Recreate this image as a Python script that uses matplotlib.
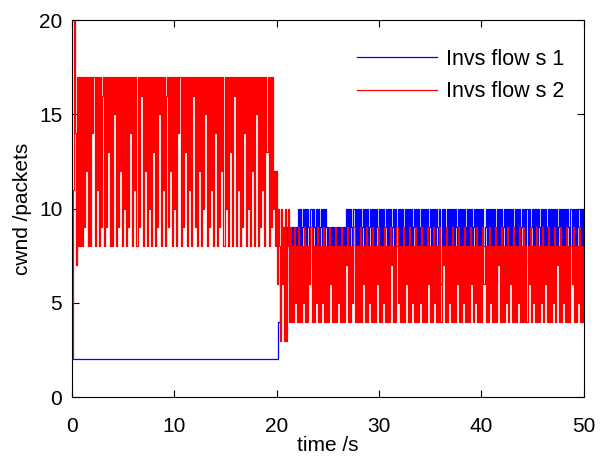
import numpy as np
from matplotlib import pyplot as plt

plt.rcParams['font.family'] = ['Liberation Sans', 'DejaVu Sans']

dt = 0.1  # sample spacing in seconds

# flow 2 (red), 0 - 20 s
red_a = [
    2, 11, 20, 14, 7, 17, 8, 17, 8, 17, 8, 17, 9, 17, 12, 17, 8, 17, 8, 17,
    14, 17, 8, 17, 11, 17, 8, 17, 9, 16, 17, 8, 17, 9, 17, 13, 17, 8, 17, 8,
    17, 15, 17, 8, 17, 9, 17, 12, 17, 8, 17, 10, 17, 8, 17, 9, 17, 14, 17, 8,
    17, 11, 17, 8, 17, 9, 17, 16, 17, 8, 17, 12, 17, 8, 17, 10, 17, 8, 17, 13,
    17, 8, 17, 9, 17, 15, 17, 8, 17, 11, 17, 8, 16, 17, 9, 17, 12, 17, 8, 17,
    10, 17, 8, 17, 14, 17, 8, 17, 9, 17, 13, 17, 8, 17, 11, 17, 8, 17, 16, 17,
    9, 17, 8, 17, 12, 17, 8, 17, 10, 17, 15, 17, 8, 17, 9, 17, 11, 17, 8, 17,
    14, 17, 8, 17, 9, 17, 12, 17, 8, 17, 10, 17, 8, 17, 13, 17, 8, 17, 16, 17,
    8, 17, 11, 17, 8, 17, 9, 17, 14, 17, 8, 17, 10, 17, 8, 17, 12, 17, 8, 17,
    15, 17, 8, 17, 9, 17, 11, 17, 8, 17, 13, 17, 8, 17, 9, 17, 10, 12, 8, 12,
]

# flow 2 (red), 20 - 50 s
red_b = [
    6, 10, 8, 3, 10, 6, 9, 3, 10, 3, 8, 10, 4, 9, 4, 8, 4, 9, 5, 8,
    4, 9, 4, 8, 4, 8, 5, 9, 4, 8, 4, 8, 6, 9, 4, 8, 4, 8, 5, 9,
    4, 8, 4, 8, 5, 9, 4, 8, 4, 8, 4, 9, 6, 8, 4, 8, 4, 9, 4, 8,
    5, 8, 4, 9, 4, 8, 4, 8, 7, 9, 4, 8, 4, 8, 5, 9, 4, 8, 4, 8,
    4, 9, 4, 8, 6, 8, 4, 9, 4, 8, 5, 8, 4, 9, 4, 8, 4, 8, 6, 9,
    4, 8, 4, 8, 5, 9, 4, 8, 4, 8, 4, 9, 7, 8, 4, 8, 4, 9, 5, 8,
    4, 8, 4, 9, 4, 8, 6, 8, 4, 9, 4, 8, 5, 8, 4, 9, 4, 8, 4, 8,
    5, 9, 4, 8, 4, 8, 4, 9, 6, 8, 4, 8, 4, 9, 5, 8, 4, 8, 4, 9,
    4, 8, 7, 8, 4, 9, 4, 8, 5, 8, 4, 9, 4, 8, 4, 8, 6, 9, 4, 8,
    4, 8, 5, 9, 4, 8, 4, 8, 4, 9, 6, 8, 4, 8, 5, 9, 4, 8, 4, 8,
    4, 9, 6, 8, 4, 8, 4, 9, 5, 8, 4, 8, 4, 9, 4, 8, 7, 8, 4, 9,
    4, 8, 4, 8, 5, 9, 4, 8, 6, 8, 4, 9, 4, 8, 4, 8, 5, 9, 4, 8,
    4, 9, 4, 8, 4, 8, 6, 9, 4, 8, 5, 8, 4, 9, 4, 8, 4, 8, 5, 9,
    4, 8, 6, 8, 4, 9, 4, 8, 4, 8, 5, 9, 4, 8, 7, 8, 4, 9, 4, 8,
    5, 8, 4, 9, 4, 8, 4, 8, 6, 9, 4, 8, 4, 8, 5, 9, 4, 8, 4, 8,
]

# flow 1 (blue): flat before 20 s, then sampled every dt
blue_a = [2]
blue_b = [
    2, 4, 4, 6, 6, 9, 8, 9, 7, 9, 8, 9, 6, 9, 8, 9, 7, 9, 8, 9,
    6, 10, 8, 10, 7, 9, 10, 8, 10, 6, 10, 9, 7, 10, 8, 10, 9, 6, 10, 8,
    10, 7, 9, 10, 8, 10, 6, 10, 9, 8, 9, 7, 9, 8, 9, 6, 9, 8, 9, 7,
    9, 8, 9, 6, 9, 8, 9, 7, 10, 8, 10, 6, 10, 9, 7, 10, 8, 10, 6, 10,
    8, 10, 7, 9, 10, 8, 10, 6, 10, 8, 9, 10, 7, 10, 8, 10, 6, 10, 9, 8,
    10, 7, 10, 8, 10, 6, 9, 10, 8, 10, 7, 10, 8, 9, 10, 6, 10, 8, 10, 7,
    10, 8, 10, 9, 6, 10, 8, 10, 7, 10, 8, 10, 6, 9, 10, 8, 10, 7, 10, 8,
    9, 10, 6, 10, 8, 10, 7, 10, 8, 9, 10, 6, 10, 8, 10, 7, 10, 9, 8, 10,
    6, 10, 8, 10, 7, 9, 10, 8, 10, 6, 10, 8, 10, 7, 10, 9, 8, 10, 6, 10,
    8, 10, 7, 10, 9, 8, 10, 6, 10, 8, 10, 7, 9, 10, 8, 10, 6, 10, 8, 10,
    7, 10, 8, 9, 10, 6, 10, 8, 10, 7, 10, 8, 10, 9, 6, 10, 8, 10, 7, 10,
    8, 9, 10, 6, 10, 8, 10, 7, 10, 8, 10, 9, 6, 10, 8, 10, 7, 10, 8, 9,
    10, 6, 10, 8, 10, 7, 10, 8, 9, 10, 6, 10, 8, 10, 7, 10, 9, 8, 10, 6,
    10, 8, 10, 7, 9, 10, 8, 10, 6, 10, 8, 10, 7, 10, 8, 9, 10, 6, 10, 8,
    10, 7, 10, 8, 10, 9, 6, 10, 8, 10, 7, 10, 8, 10, 9, 6, 10, 8, 10, 7,
]
t_switch = 20.0

labels = ['Invs flow s 1', 'Invs flow s 2']
xticks = [0, 10, 20, 30, 40, 50]
yticks = [0, 5, 10, 15, 20]

red = np.array(red_a + red_b)
t_red = dt * np.arange(len(red))
blue = np.array(blue_a + blue_b)
t_blue = np.concatenate([[0.0], t_switch + dt * np.arange(len(blue_b))])

fig = plt.figure(figsize=(6, 4.57), dpi=100)
ax = fig.add_axes([0.12, 0.131, 0.853, 0.825])

ax.plot(t_blue, blue, color='#0000ff', lw=0.9, drawstyle='steps-post',
        label=labels[0])
ax.plot(t_red, red, color='#ff0000', lw=0.9, drawstyle='steps-post',
        label=labels[1])

ax.set_xlim(0, 50)
ax.set_ylim(0, 20)
ax.set_xticks(xticks)
ax.set_yticks(yticks)
ax.tick_params(direction='in', top=True, right=True, length=5, width=0.8,
               labelsize=15)
ax.tick_params(axis='x', pad=14)
ax.tick_params(axis='y', pad=7)
for s in ax.spines.values():
    s.set_linewidth(0.8)

ax.set_xlabel('time /s', fontsize=15, labelpad=0)
ax.set_ylabel('cwnd /packets', fontsize=15, labelpad=5)

ax.legend(loc='upper right', bbox_to_anchor=(1.0, 0.976), frameon=False,
          fontsize=15.5, handlelength=3.7, handletextpad=0.42,
          labelspacing=0.55, borderaxespad=0.5)

plt.savefig('out.png', dpi=100)
